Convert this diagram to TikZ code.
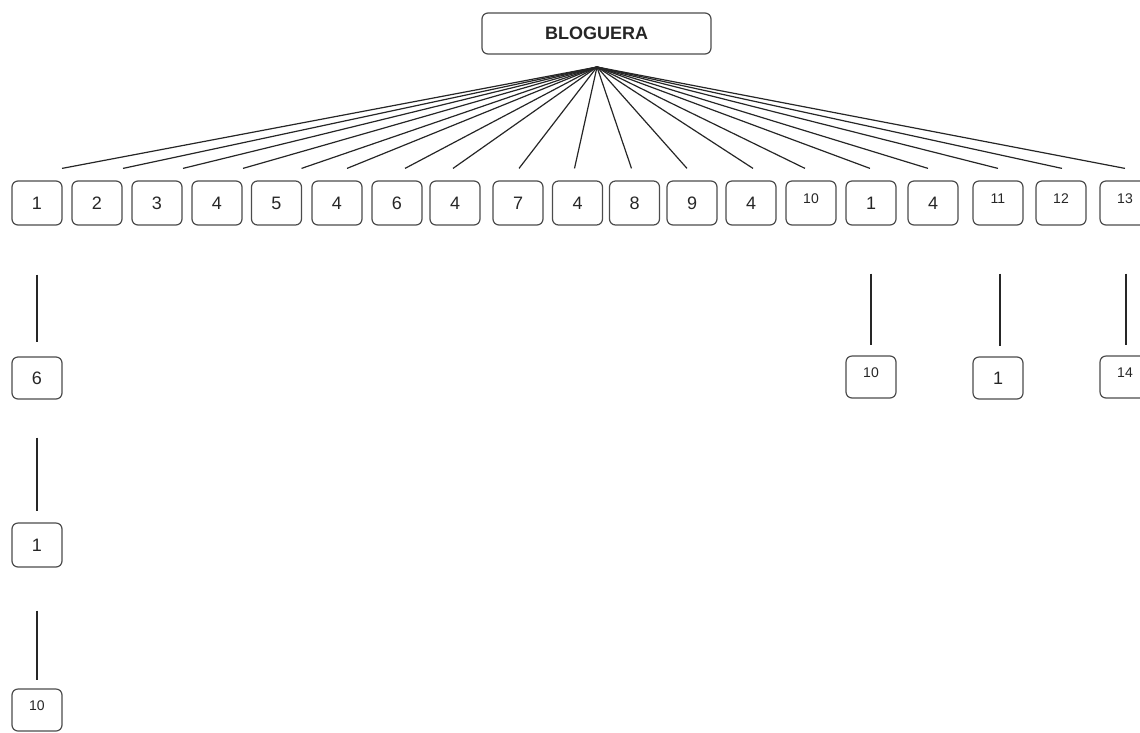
\documentclass[tikz,border=0pt]{standalone}
\usepackage{fontspec}
\setmainfont{Liberation Sans}
\usetikzlibrary{calc}
\begin{document}
\begin{tikzpicture}[x=1pt,y=-1pt,
  box/.style={draw=black!70, line width=1.2pt, rounded corners=6pt, minimum width=50pt, minimum height=44pt, inner sep=0pt, text=black!85, font=\fontsize{18}{20}\selectfont},
  sbox/.style={box, font=\fontsize{14}{16}\selectfont},
  link/.style={draw=black!85, line width=1.2pt}]
\useasboundingbox (0,0) rectangle (1140,732);
\clip (0,0) rectangle (1140,732);
\node[box, minimum width=229pt, minimum height=41pt, font=\bfseries\fontsize{18}{20}\selectfont] (root) at (596.5,33.5) {BLOGUERA};
\coordinate (apex) at (597,67);
% first row
\foreach \n/\x/\t/\s in {1/37/1/box, 2/97/2/box, 3/157/3/box, 4/217/4/box, 5/276.5/5/box, 6/337/4/box, 7/397/6/box, 8/455/4/box, 9/518/7/box, 10/577.5/4/box, 11/634.5/8/box, 12/692/9/box, 13/751/4/box, 14/811/\smash{10}/sbox, 15/871/1/box, 16/933/4/box, 17/998/\smash{11}/sbox, 18/1061/\smash{12}/sbox, 19/1125/\smash{13}/sbox}
  \node[\s] (b\n) at (\x,203) {\t};
% end points of the fan lines
\foreach \n/\dx in {1/25, 2/26, 3/26, 4/26, 5/25, 6/10, 7/8, 8/-2, 9/1, 10/-3, 11/-3, 12/-5, 13/2, 14/-6, 15/-1, 16/-5, 17/0, 18/1, 19/0}
  \coordinate (e\n) at ($(b\n.north)+(\dx,-12)$);
\foreach \n in {1,...,19}
  \draw[link] (apex) -- (e\n);
% second level
\node[box, minimum height=42pt] (c1) at (37,378) {6};
\node[sbox, minimum height=42pt] (c15) at (871,377) {\smash{10}};
\node[box, minimum height=42pt] (c17) at (998,378) {1};
\node[sbox, minimum height=42pt] (c19) at (1125,377) {\smash{14}};
% third and fourth level
\node[box] (d1) at (37,545) {1};
\node[sbox, minimum height=42pt] (f1) at (37,710) {\smash{10}};
% vertical connectors
\draw[link] ($(b1.south)+(0,49)$) -- ($(c1.north)+(0,-14)$);
\draw[link] ($(b15.south)+(0,48)$) -- ($(c15.north)+(0,-10)$);
\draw[link] ($(b17.south)+(2,48)$) -- ($(c17.north)+(2,-10)$);
\draw[link] ($(b19.south)+(1,48)$) -- ($(c19.north)+(1,-10)$);
\draw[link] ($(c1.south)+(0,38)$) -- ($(d1.north)+(0,-11)$);
\draw[link] ($(d1.south)+(0,43)$) -- ($(f1.north)+(0,-8)$);
\end{tikzpicture}
\end{document}
